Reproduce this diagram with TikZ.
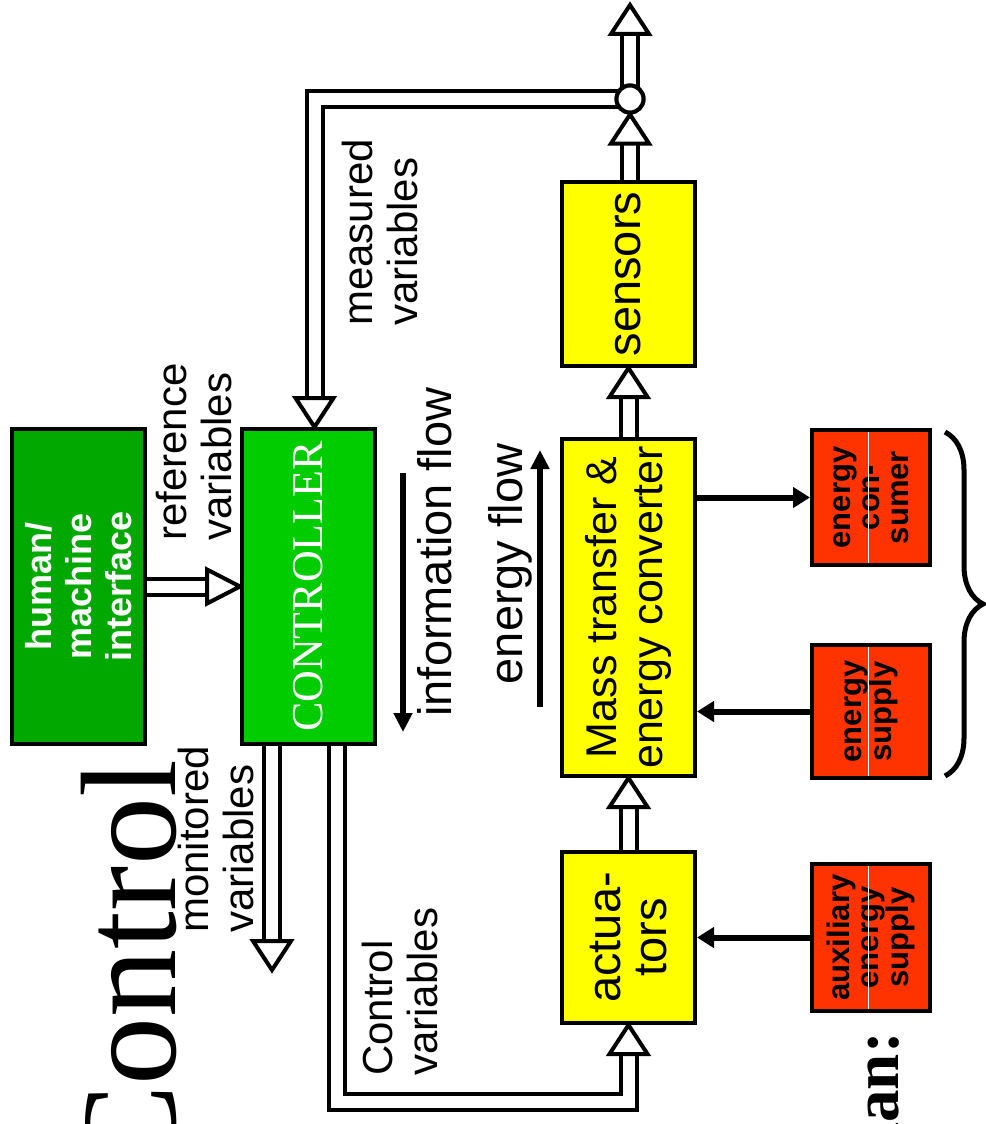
\documentclass[tikz,border=0pt]{standalone}
\usepackage{fontspec}
\setmainfont{Liberation Sans}
\newfontfamily\sansf{Liberation Sans}
\newfontfamily\serf{Liberation Serif}
\usetikzlibrary{arrows.meta,calc,decorations.pathreplacing}
\pgfdeclarelayer{bg}
\pgfsetlayers{bg,main}
\definecolor{hmigreen}{RGB}{0,168,0}
\definecolor{ctrlgreen}{RGB}{0,204,0}
\definecolor{yel}{RGB}{255,255,0}
\definecolor{rd}{RGB}{255,51,0}
\newcommand{\headup}[1]{\draw[hhead] (#1) -- ++(-19,29) -- ++(38,0) -- cycle;}
\newcommand{\headdown}[1]{\draw[hhead] (#1) -- ++(-19,-29) -- ++(38,0) -- cycle;}
\newcommand{\headright}[1]{\draw[hhead] (#1) -- ++(-33,-17) -- ++(0,34) -- cycle;}
\begin{document}
\begin{tikzpicture}[x=1pt,y=-1pt,
  box/.style={draw=black, line width=4pt, inner sep=0pt},
  hshaft/.style={draw=black, double=white, double distance=12pt, line width=4pt, line join=miter},
  hhead/.style={draw=black, fill=white, line width=4pt, line join=miter},
  solidarrow/.style={line width=6pt, -{Triangle[length=17pt,width=20pt]}},
  flowarrow/.style={line width=6pt, -{Triangle[length=19pt,width=18pt]}},
  boxtxt/.style={rotate=90, align=center, inner sep=0pt},
  lbl/.style={rotate=90, align=left, inner sep=0pt, font=\sansf\fontsize{42}{45}\selectfont},
  sep/.style={draw=white, line width=0.8pt}]
\useasboundingbox (0,0) rectangle (985,1124);
\begin{pgfonlayer}{bg}
\fill[white] (0,0) rectangle (985,1124);
\end{pgfonlayer}

% boxes
\node[box, fill=hmigreen, minimum width=133pt, minimum height=315pt] (hmi) at (78.5,586.5) {};
\node[box, fill=ctrlgreen, minimum width=133pt, minimum height=315pt] (ctrl) at (308.5,586.5) {};
\node[box, fill=yel, minimum width=133pt, minimum height=184pt] (sens) at (628.5,274) {};
\node[box, fill=yel, minimum width=133pt, minimum height=337pt] (mass) at (628.5,607.5) {};
\node[box, fill=yel, minimum width=133pt, minimum height=171pt] (act) at (628.5,937.5) {};
\node[box, fill=rd, minimum width=118pt, minimum height=135pt] (cons) at (871,497.5) {};
\node[box, fill=rd, minimum width=118pt, minimum height=133pt] (sup) at (871,711.5) {};
\node[box, fill=rd, minimum width=118pt, minimum height=147pt] (aux) at (871,937.5) {};
\node[draw=black, fill=white, line width=4pt, circle, minimum size=27pt, inner sep=0pt] (junc) at (630,99) {};

% box texts
\node[boxtxt, text=white, font=\sansf\bfseries\fontsize{36}{40}\selectfont] (hmi-t) at (hmi) {human/\\machine\\interface};
\node[boxtxt, text=white, font=\serf\fontsize{44}{48}\selectfont] (ctrl-t) at (ctrl) {CONTROLLER};
\node[boxtxt, font=\sansf\fontsize{47}{50}\selectfont] (sens-t) at (sens) {sensors};
\node[boxtxt, font=\sansf\fontsize{43}{46}\selectfont] (mass-t) at (mass) {Mass transfer \&\\energy converter};
\node[boxtxt, font=\sansf\fontsize{47}{46}\selectfont] (act-t) at (act) {actua-\\tors};
\node[boxtxt, font=\sansf\bfseries\fontsize{31}{29}\selectfont] (cons-t) at (cons) {energy\\con-\\sumer};
\node[boxtxt, font=\sansf\bfseries\fontsize{31}{29}\selectfont] (sup-t) at (sup) {energy\\supply};
\node[boxtxt, font=\sansf\bfseries\fontsize{31}{29}\selectfont] (aux-t) at (aux) {auxiliary\\energy\\supply};
\draw[sep] ($(cons.north)+(-3,4)$) -- ($(cons.south)+(-3,-4)$);
\draw[sep] ($(sup.north)+(-3,4)$) -- ($(sup.south)+(-3,-4)$);
\draw[sep] ($(aux.north)+(-3,4)$) -- ($(aux.south)+(-3,-4)$);

% hollow arrows
\coordinate (mvtip) at ($(ctrl.north)+(6,0)$);
\coordinate (montip) at (272,970);
\coordinate (cv) at (337,1102);
\coordinate (out) at (630,5);
\begin{pgfonlayer}{bg}
\draw[hshaft] (hmi.east) -- ($(ctrl.west)+(-33,0)$);
\draw[hshaft] (junc.center) -| ($(mvtip)+(0,-29)$);
\draw[hshaft] (montip |- ctrl.south) -- ($(montip)+(0,-29)$);
\draw[hshaft] (cv |- ctrl.south) -- (cv) -| ($(act.south)+(0,29)$);
\draw[hshaft] (act.north) -- ($(mass.south)+(0,29)$);
\draw[hshaft] (mass.north) -- ($(sens.south)+(0,29)$);
\draw[hshaft] (junc.south |- sens.north) -- ($(junc.south)+(0,29)$);
\draw[hshaft] (junc.center) -- ($(out)+(0,29)$);
\end{pgfonlayer}
\node[draw=black, fill=white, line width=4pt, circle, minimum size=27pt, inner sep=0pt] at (junc) {};
\headright{ctrl.west}
\headdown{mvtip}
\headdown{montip}
\headup{act.south}
\headup{mass.south}
\headup{sens.south}
\headup{junc.south}
\headup{out}

% solid arrows
\draw[solidarrow] (mass.east |- cons.west) -- (cons.west);
\draw[solidarrow] (sup.west) -- (mass.east |- sup.west);
\draw[solidarrow] (aux.west) -- (act.east |- aux.west);

% flow arrows
\coordinate (if1) at (403,473);
\coordinate (if2) at (403,732);
\coordinate (ef1) at (540,707);
\coordinate (ef2) at (540,450);
\draw[flowarrow] (if1) -- (if2);
\draw[flowarrow] (ef1) -- (ef2);

% labels
\node[lbl, anchor=west] (refl) at (194,541) {reference\\variables};
\node[lbl, anchor=west] (measl) at (380,326) {measured\\variables};
\node[lbl, anchor=west] (monl) at (216,933) {monitored\\variables};
\node[lbl, anchor=west] (cvl) at (400,1076) {Control\\variables};
\node[rotate=90, inner sep=0pt, font=\sansf\fontsize{47}{50}\selectfont] (infol) at (435,552) {information flow};
\node[rotate=90, inner sep=0pt, font=\sansf\fontsize{47}{50}\selectfont] (enl) at (510,564) {energy flow};

% brace
\draw[line width=5pt, decorate, decoration={brace, amplitude=38pt}] (945,432) -- (945,776);

% large titles
\node[rotate=90, anchor=base east, inner sep=0pt, font=\serf\fontsize{136}{140}\selectfont] (big) at (175,760) {Control};
\node[rotate=90, anchor=base east, inner sep=0pt, font=\serf\bfseries\fontsize{65}{70}\selectfont] (man) at (898,1032) {man:};
\end{tikzpicture}
\end{document}
